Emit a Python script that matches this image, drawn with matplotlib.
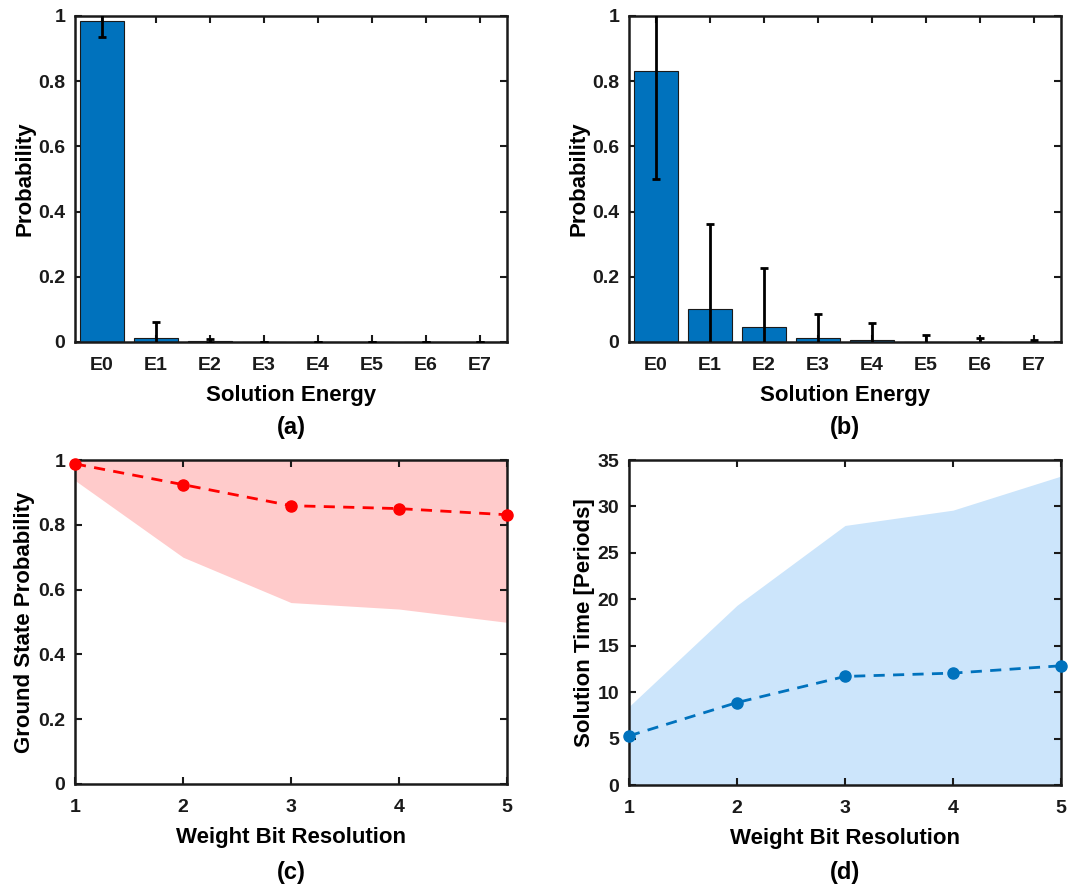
import numpy as np
import matplotlib.pyplot as plt
from matplotlib.ticker import FuncFormatter

plt.rcParams['font.family'] = ['Liberation Sans', 'DejaVu Sans']
plt.rcParams['font.weight'] = 'bold'

# solution energy distributions
energies = ['E0', 'E1', 'E2', 'E3', 'E4', 'E5', 'E6', 'E7']
prob_a = [0.986, 0.011, 0.003, 0.0, 0.0, 0.0, 0.0, 0.0]
err_a = [0.051, 0.051, 0.005, 0.0, 0.0, 0.0, 0.0, 0.0]
prob_b = [0.831, 0.101, 0.045, 0.012, 0.006, 0.001, 0.001, 0.0005]
err_b = [0.332, 0.261, 0.181, 0.075, 0.053, 0.020, 0.012, 0.006]

# sweep over weight bit resolution
bits = [1, 2, 3, 4, 5]
gs_prob = [0.988, 0.924, 0.859, 0.850, 0.831]
gs_low = [0.937, 0.700, 0.560, 0.540, 0.499]
gs_high = [1.0, 1.0, 1.0, 1.0, 1.0]
sol_time = [5.29, 8.88, 11.69, 12.05, 12.84]
time_low = [0.0, 0.0, 0.0, 0.0, 0.0]
time_high = [8.45, 19.35, 27.95, 29.6, 33.27]

BLUE = '#0072BD'
W, H = 1072, 886

fig = plt.figure(figsize=(W / 100, H / 100), dpi=100)


def make_ax(left, top, right, bottom):
    return fig.add_axes([left / W, 1 - bottom / H, (right - left) / W, (bottom - top) / H])


def style(ax):
    for s in ax.spines.values():
        s.set_linewidth(1.8)
        s.set_color('#1a1a1a')
    ax.tick_params(direction='in', length=5, width=1.5, top=True, right=True,
                   labelsize=14, pad=7, colors='#1a1a1a')
    ax.tick_params(axis='x', pad=11)
    for lab in ax.get_xticklabels() + ax.get_yticklabels():
        lab.set_fontweight('bold')


fmt = FuncFormatter(lambda v, p: f'{v:g}')

ax_a = make_ax(75, 16, 507, 342)
ax_b = make_ax(629, 16, 1061, 342)
ax_c = make_ax(75, 460, 507, 784)
ax_d = make_ax(629, 460, 1061, 785)

for ax, prob, err in [(ax_a, prob_a, err_a), (ax_b, prob_b, err_b)]:
    x = np.arange(1, len(energies) + 1)
    ax.bar(x, prob, width=0.8, color=BLUE, edgecolor='#1a1a1a', linewidth=0.8, zorder=2)
    ax.errorbar(x, prob, yerr=err, fmt='none', ecolor='black', elinewidth=2,
                capsize=3, capthick=2, zorder=3)
    ax.set_xlim(0.5, 8.5)
    ax.set_ylim(0, 1)
    ax.set_xticks(x)
    ax.set_xticklabels(energies)
    ax.set_yticks(np.arange(0, 1.01, 0.2))
    ax.yaxis.set_major_formatter(fmt)
    ax.set_xlabel('Solution Energy', fontsize=16, fontweight='bold', labelpad=8)
    ax.set_ylabel('Probability', fontsize=16, fontweight='bold', labelpad=2)
    style(ax)

ax_c.fill_between(bits, gs_low, gs_high, color='#FFCBCB', linewidth=0, zorder=1)
ax_c.plot(bits, gs_prob, '--o', color='#FF0000', lw=2, ms=8, dashes=(4, 3),
          clip_on=False, zorder=3)
ax_c.set_xlim(1, 5)
ax_c.set_ylim(0, 1)
ax_c.set_xticks(bits)
ax_c.set_yticks(np.arange(0, 1.01, 0.2))
ax_c.yaxis.set_major_formatter(fmt)
ax_c.set_xlabel('Weight Bit Resolution', fontsize=16, fontweight='bold', labelpad=8)
ax_c.set_ylabel('Ground State Probability', fontsize=16, fontweight='bold', labelpad=2)
style(ax_c)

ax_d.fill_between(bits, time_low, time_high, color='#CCE5FB', linewidth=0, zorder=1)
ax_d.plot(bits, sol_time, '--o', color=BLUE, lw=2, ms=8, dashes=(4, 3),
          clip_on=False, zorder=3)
ax_d.set_xlim(1, 5)
ax_d.set_ylim(0, 35)
ax_d.set_xticks(bits)
ax_d.set_yticks(np.arange(0, 36, 5))
ax_d.set_xlabel('Weight Bit Resolution', fontsize=16, fontweight='bold', labelpad=8)
ax_d.set_ylabel('Solution Time [Periods]', fontsize=16, fontweight='bold', labelpad=2)
style(ax_d)

# panel letters under each x label
for ax, tag, y in [(ax_a, '(a)', 427), (ax_b, '(b)', 427), (ax_c, '(c)', 873), (ax_d, '(d)', 873)]:
    pos = ax.get_position()
    fig.text(pos.x0 + pos.width / 2, 1 - y / H, tag, ha='center', va='center',
             fontsize=17, fontweight='bold')

fig.savefig('out.png', dpi=100)
